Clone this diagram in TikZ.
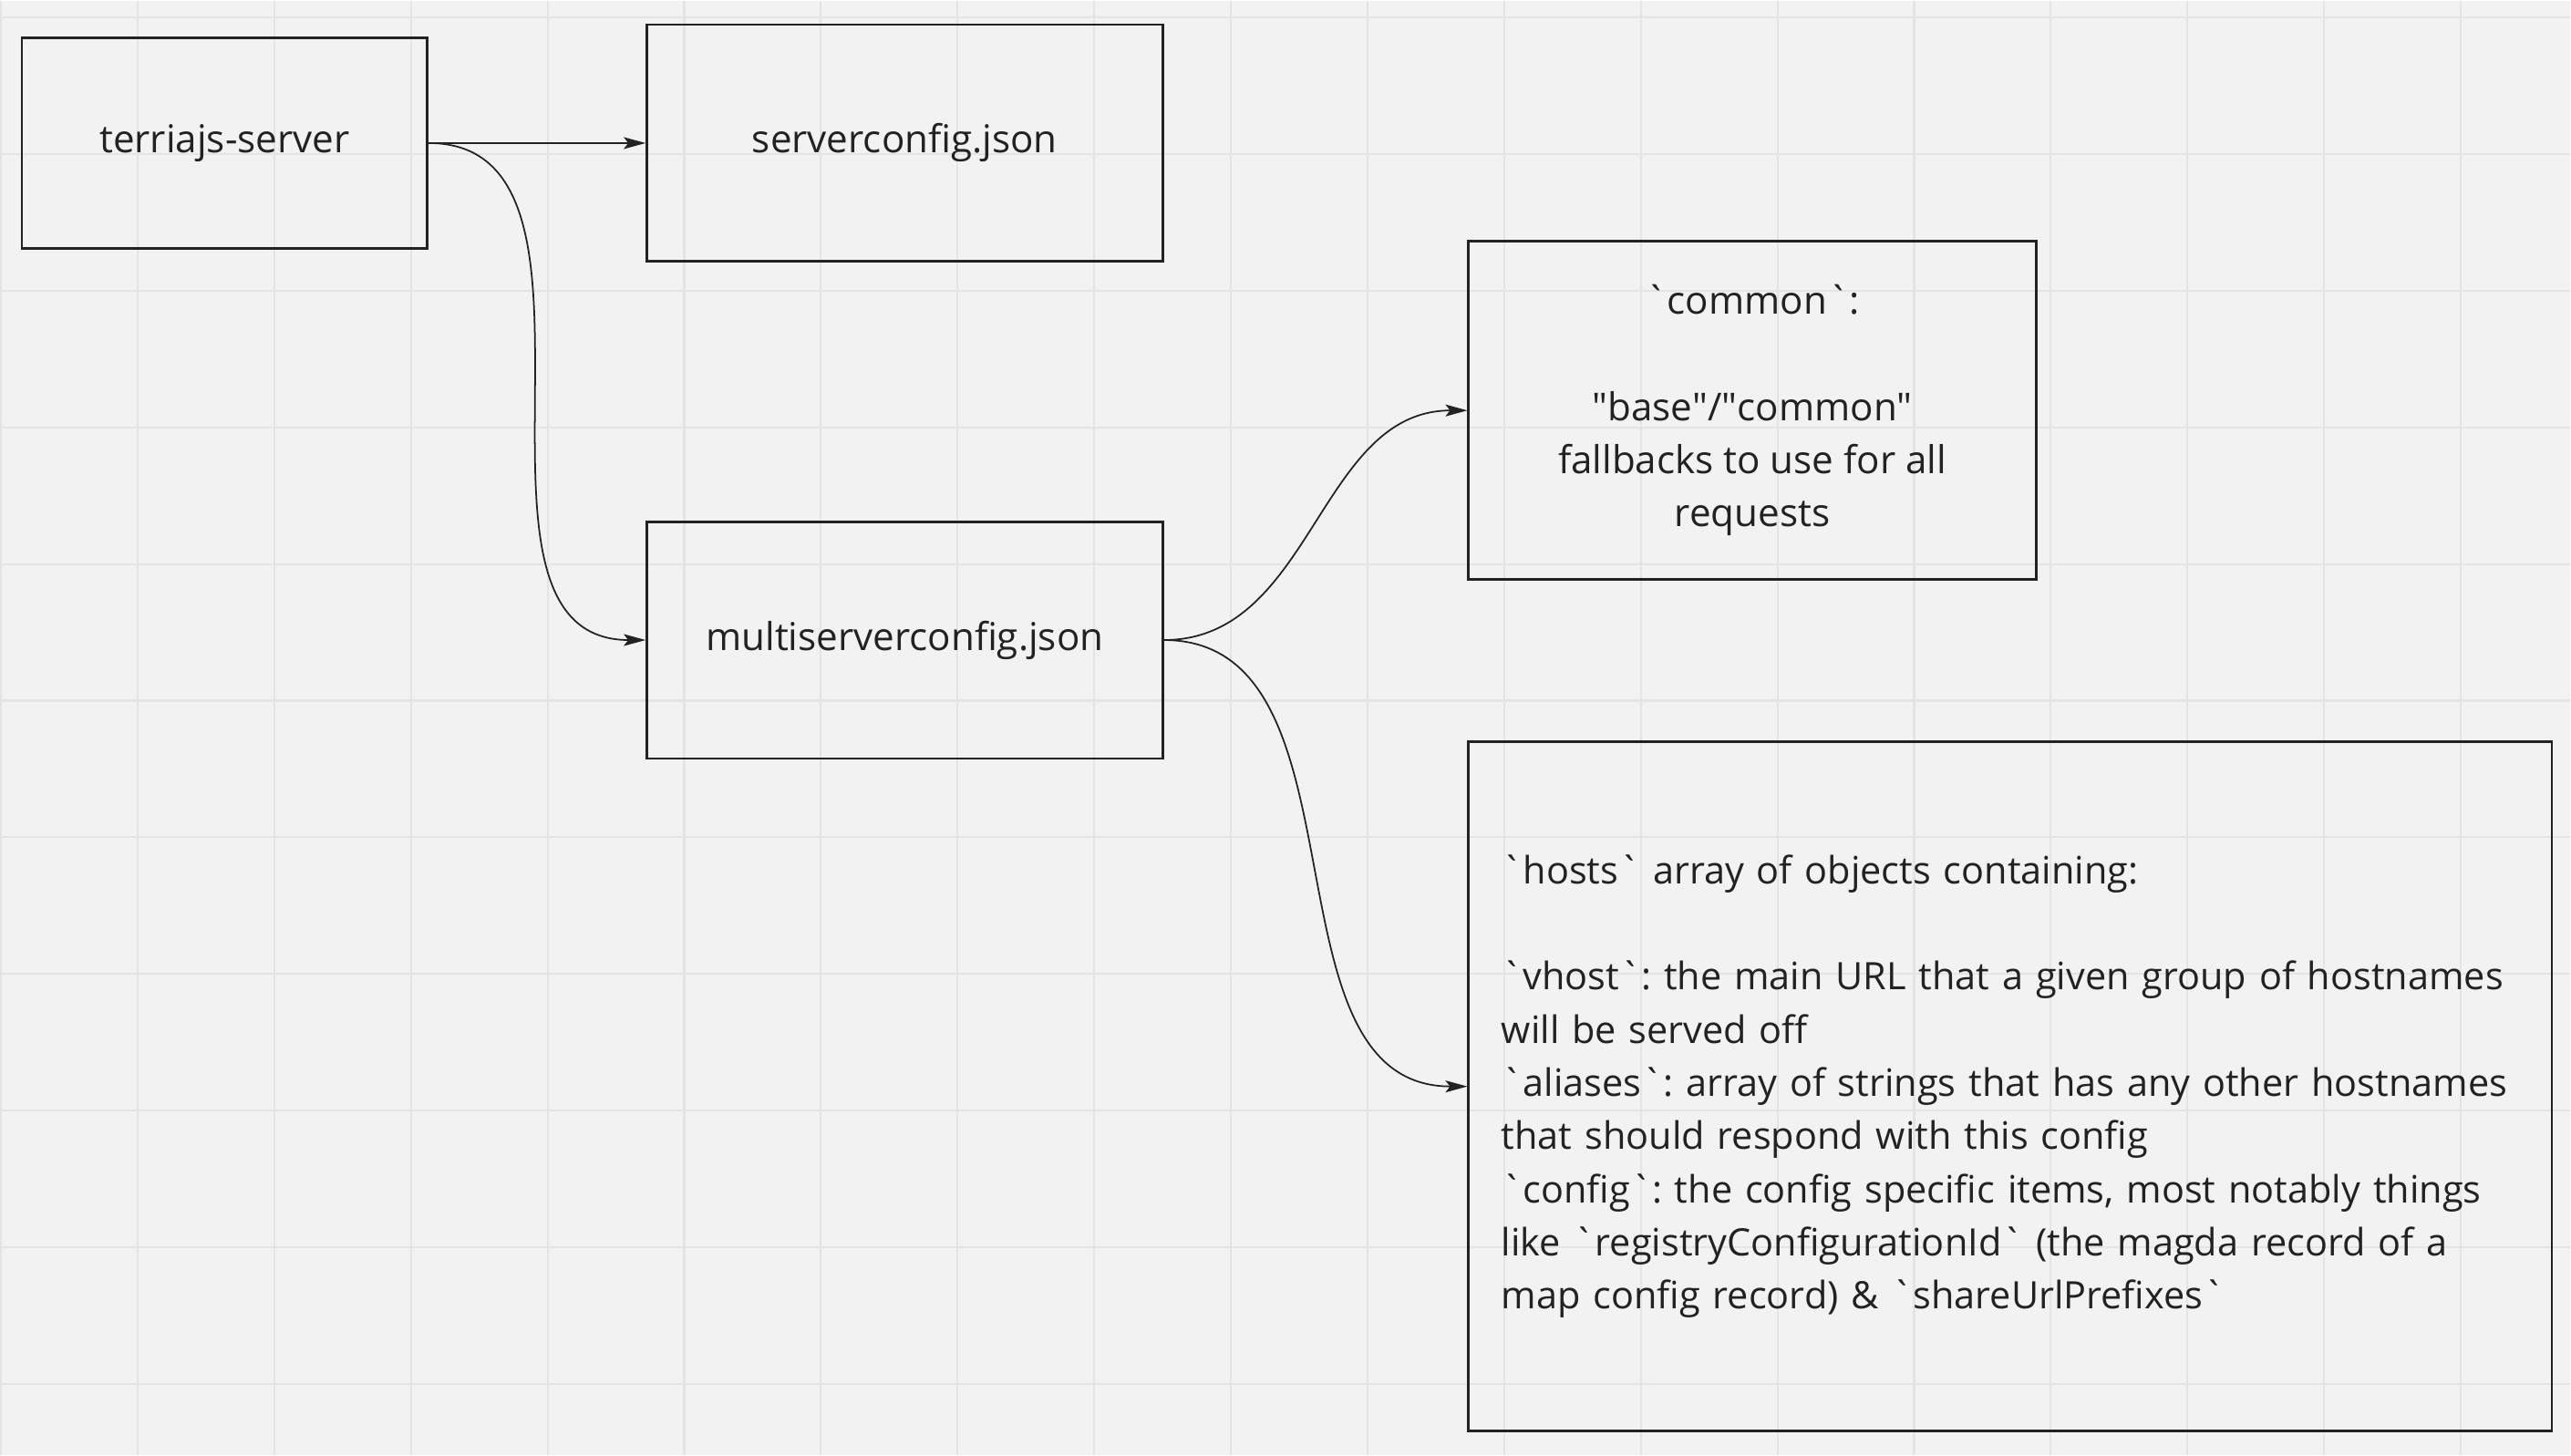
\documentclass[tikz,border=0pt]{standalone}
\usepackage{fontspec}
\setmainfont{Open Sans}
\usetikzlibrary{arrows.meta}
\definecolor{boardgray}{RGB}{242,242,242}
\definecolor{gridgray}{RGB}{228,228,228}
\definecolor{inkdark}{RGB}{34,34,34}
\newcommand{\bq}{\textasciigrave}
\newcommand{\dq}{\textquotedbl}
\frenchspacing
\hyphenpenalty=10000

\begin{document}
\begin{tikzpicture}[
  >={Stealth[length=2.4mm, width=1.3mm, inset=0.5mm]},
  box/.style={draw=inkdark, line width=0.8pt, text=inkdark, inner sep=0pt,
    font=\fontsize{12}{16.6}\selectfont},
  filebox/.style={box, minimum width=5.66cm, minimum height=2.6cm},
  notebox/.style={box, align=center},
  arrow/.style={->, line width=0.5pt, draw=inkdark}
]
  % Board background and grid
  \fill[boardgray] (0,0) rectangle (28.2,15.96);
  \foreach \k in {0,...,18} {
    \draw[gridgray, line width=0.6pt] ({1.5*\k},0) -- ({1.5*\k},15.96);
  }
  \foreach \k in {0,...,10} {
    \draw[gridgray, line width=0.6pt] (0,{0.78+1.5*\k}) -- (28.2,{0.78+1.5*\k});
  }
  \useasboundingbox (0,0) rectangle (28.2,15.96);

  % Server and its config files
  \node[box, minimum width=4.45cm, minimum height=2.31cm] (server) at (2.455,14.4) {terriajs-server};
  \node[filebox] (serverconfig) at (9.92,14.4) {serverconfig.json};
  \node[filebox] (multiconfig) at (9.92,8.945) {multiserverconfig.json};

  % Contents of multiserverconfig.json
  \node[notebox, minimum width=6.23cm, minimum height=3.71cm] (common) at (19.225,11.465)
    {\bq common\bq:\\[\baselineskip]
     \dq base\dq/\dq common\dq\\
     fallbacks to use for all\\
     requests};
  \node[box, align=left, text width=11.17cm, inner xsep=0.36cm, minimum height=7.57cm,
    font=\fontsize{11.8}{16.6}\selectfont] (hosts) at (22.055,4.045)
    {\bq hosts\bq{} array of objects containing:\\[\baselineskip]
     \bq vhost\bq: the main URL that a given group of hostnames\\
     will be served off\\
     \bq aliases\bq: array of strings that has any other hostnames\\
     that should respond with this config\\
     \bq config\bq: the config specific items, most notably things\\
     like \bq registryConfigurationId\bq{} (the magda record of a\\
     map config record) \& \bq shareUrlPrefixes\bq};

  % Connectors
  \draw[arrow] (server.east) -- (serverconfig.west);
  \draw[arrow] (server.east) to[out=0, in=180] (multiconfig.west);
  \draw[arrow] (multiconfig.east) to[out=0, in=180] (common.west);
  \draw[arrow] (multiconfig.east) to[out=0, in=180] (hosts.west);
\end{tikzpicture}
\end{document}
